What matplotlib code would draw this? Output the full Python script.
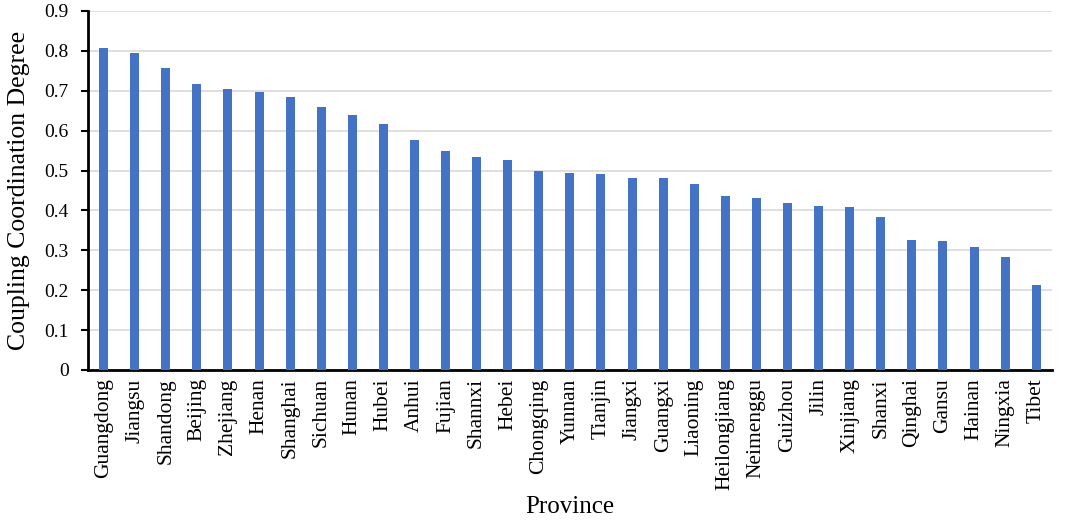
import matplotlib
matplotlib.use('Agg')
import matplotlib.pyplot as plt
import numpy as np

# Data
provinces = ['Guangdong', 'Jiangsu', 'Shandong', 'Beijing', 'Zhejiang', 'Henan',
             'Shanghai', 'Sichuan', 'Hunan', 'Hubei', 'Anhui', 'Fujian', 'Shannxi',
             'Hebei', 'Chongqing', 'Yunnan', 'Tianjin', 'Jiangxi', 'Guangxi',
             'Liaoning', 'Heilongjiang', 'Neimenggu', 'Guizhou', 'Jilin', 'Xinjiang',
             'Shanxi', 'Qinghai', 'Gansu', 'Hainan', 'Ningxia', 'Tibet']
degree = [0.806, 0.794, 0.756, 0.717, 0.704, 0.696, 0.683, 0.659, 0.638, 0.617,
          0.577, 0.548, 0.533, 0.527, 0.499, 0.493, 0.491, 0.482, 0.480, 0.467,
          0.435, 0.430, 0.419, 0.411, 0.409, 0.383, 0.325, 0.323, 0.309, 0.282,
          0.214]
yticks = [0, 0.1, 0.2, 0.3, 0.4, 0.5, 0.6, 0.7, 0.8, 0.9]
ytick_labels = ['0', '0.1', '0.2', '0.3', '0.4', '0.5', '0.6', '0.7', '0.8', '0.9']

plt.rcParams['font.family'] = ['Liberation Serif', 'DejaVu Serif']

fig = plt.figure(figsize=(10.91, 5.2), dpi=100)
ax = fig.add_axes([0.0807, 0.2885, 0.8833, 0.6905])

x = np.arange(len(provinces))
ax.bar(x, degree, width=0.29, color='#4472C4', zorder=3)

ax.set_xlim(-0.5, len(provinces) - 0.5)
ax.set_ylim(0, 0.9)
ax.set_yticks(yticks)
ax.set_yticklabels(ytick_labels, fontsize=14)
ax.set_xticks(x)
ax.set_xticklabels(provinces, rotation=90, fontsize=15.5)
ax.tick_params(axis='x', length=0, pad=6)
ax.tick_params(axis='y', length=5, width=1.5, pad=9)

# Light horizontal gridlines
ax.yaxis.grid(True, color='#d9d9d9', linewidth=1.2, zorder=0)
ax.set_axisbelow(True)

for side in ['top', 'right']:
    ax.spines[side].set_visible(False)
for side in ['left', 'bottom']:
    ax.spines[side].set_linewidth(2)
    ax.spines[side].set_color('black')

ax.set_ylabel('Coupling Coordination Degree', fontsize=18.5, labelpad=10)
ax.set_xlabel('Province', fontsize=18, labelpad=4)

plt.savefig('out.png', dpi=100)
